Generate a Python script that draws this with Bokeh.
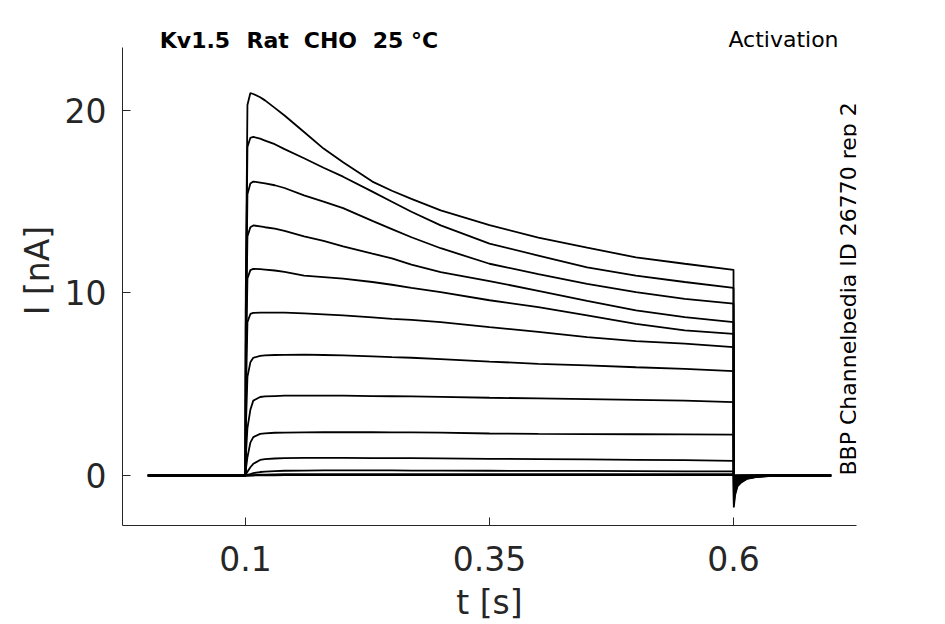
import math
from bokeh.plotting import figure
from bokeh.models import Range1d, FixedTicker, Label
from bokeh.embed import file_html
from bokeh.resources import INLINE

# Time grid (s)
T = [0.0, 0.1, 0.1003, 0.102, 0.105, 0.108, 0.115, 0.12, 0.13, 0.14, 0.16, 0.18,
     0.2, 0.23, 0.25, 0.27, 0.3, 0.35, 0.4, 0.45, 0.5, 0.55, 0.6,
     0.6003, 0.6015, 0.604, 0.608, 0.614, 0.624, 0.64, 0.7]

# Current traces (nA), one per voltage step
I01 = [0, 0, 10.0, 20.3, 20.95, 20.9, 20.72, 20.55, 20.14, 19.72, 18.82, 17.91,
       17.16, 16.1, 15.6, 15.15, 14.52, 13.72, 13.03, 12.48, 11.95, 11.6, 11.27,
       -1.75, -1.1, -0.6, -0.38, -0.18, -0.08, -0.02, 0]
I02 = [0, 0, 9.0, 18.0, 18.5, 18.55, 18.45, 18.35, 18.15, 17.88, 17.38, 16.86,
       16.37, 15.55, 15.0, 14.45, 13.7, 12.7, 12.05, 11.4, 10.95, 10.6, 10.28,
       -1.55, -0.98, -0.53, -0.34, -0.16, -0.07, -0.02, 0]
I03 = [0, 0, 8.0, 15.4, 16.0, 16.1, 16.05, 16.0, 15.9, 15.75, 15.35, 15.0,
       14.65, 13.95, 13.5, 13.05, 12.45, 11.6, 11.03, 10.5, 10.04, 9.68, 9.41,
       -1.35, -0.85, -0.46, -0.29, -0.14, -0.06, -0.02, 0]
I04 = [0, 0, 7.0, 13.1, 13.6, 13.7, 13.65, 13.6, 13.52, 13.4, 13.1, 12.85,
       12.55, 12.15, 11.9, 11.55, 11.14, 10.65, 10.12, 9.57, 9.04, 8.67, 8.4,
       -1.15, -0.72, -0.39, -0.25, -0.12, -0.05, -0.01, 0]
I05 = [0, 0, 5.5, 10.8, 11.25, 11.32, 11.3, 11.28, 11.23, 11.15, 10.95, 10.87,
       10.78, 10.6, 10.45, 10.28, 10.04, 9.6, 9.22, 8.77, 8.31, 7.95, 7.76,
       -0.95, -0.6, -0.33, -0.21, -0.1, -0.04, -0.01, 0]
I06 = [0, 0, 4.0, 8.4, 8.85, 8.91, 8.92, 8.92, 8.92, 8.92, 8.88, 8.83,
       8.77, 8.66, 8.58, 8.52, 8.4, 8.13, 7.87, 7.58, 7.36, 7.22, 7.03,
       -0.75, -0.47, -0.26, -0.16, -0.08, -0.03, -0.01, 0]
I07 = [0, 0, 2.5, 5.4, 6.2, 6.45, 6.55, 6.58, 6.6, 6.61, 6.62, 6.6,
       6.58, 6.52, 6.48, 6.45, 6.38, 6.24, 6.12, 6.03, 5.93, 5.84, 5.72,
       -0.55, -0.35, -0.19, -0.12, -0.06, -0.02, 0, 0]
I08 = [0, 0, 1.0, 2.6, 3.6, 4.1, 4.3, 4.33, 4.35, 4.37, 4.38, 4.38,
       4.38, 4.35, 4.34, 4.33, 4.31, 4.26, 4.22, 4.18, 4.14, 4.1, 4.02,
       -0.35, -0.22, -0.12, -0.08, -0.04, -0.01, 0, 0]
I09 = [0, 0, 0.3, 1.0, 1.8, 2.1, 2.28, 2.31, 2.34, 2.35, 2.36, 2.37,
       2.37, 2.37, 2.36, 2.36, 2.35, 2.3, 2.28, 2.27, 2.26, 2.25, 2.24,
       -0.18, -0.11, -0.06, -0.04, -0.02, -0.01, 0, 0]
I10 = [0, 0, 0.05, 0.2, 0.45, 0.64, 0.85, 0.9, 0.93, 0.95, 0.96, 0.96,
       0.96, 0.95, 0.95, 0.95, 0.94, 0.91, 0.9, 0.88, 0.86, 0.84, 0.8,
       -0.08, -0.05, -0.03, -0.02, -0.01, 0, 0, 0]
I11 = [0, 0, 0, 0.03, 0.08, 0.13, 0.19, 0.21, 0.24, 0.26, 0.27, 0.28,
       0.28, 0.28, 0.28, 0.27, 0.27, 0.26, 0.25, 0.25, 0.24, 0.23, 0.22,
       -0.03, -0.02, -0.01, 0, 0, 0, 0, 0]
I12 = [0, 0, 0, 0, 0.01, 0.02, 0.04, 0.05, 0.06, 0.07, 0.08, 0.08,
       0.08, 0.08, 0.08, 0.08, 0.08, 0.08, 0.07, 0.07, 0.07, 0.07, 0.07,
       0, 0, 0, 0, 0, 0, 0, 0]
I13 = [0, 0, 0, 0, 0, 0, 0.01, 0.01, 0.01, 0.02, 0.02, 0.02,
       0.02, 0.02, 0.02, 0.02, 0.02, 0.02, 0.02, 0.02, 0.02, 0.02, 0.02,
       0, 0, 0, 0, 0, 0, 0, 0]
TRACES = [I01, I02, I03, I04, I05, I06, I07, I08, I09, I10, I11, I12, I13]

X_TICKS = [0.1, 0.35, 0.6]
Y_TICKS = [0, 10, 20]
TITLE_WORDS = ["Kv1.5", "Rat", "CHO", "25 °C"]
PROTOCOL = "Activation"
SOURCE = "BBP Channelpedia ID 26770 rep 2"

FONT = "DejaVu Sans"
AX = "#262626"
X_MIN, X_MAX = -0.026, 0.726
Y_MIN, Y_AXIS_TOP, Y_FRAME_TOP = -2.74, 23.45, 25.2
TITLE_X = [0.0122, 0.1010, 0.1597, 0.2304]

p = figure(width=938, height=624, output_backend="svg", toolbar_location=None,
           x_range=Range1d(X_MIN, X_MAX), y_range=Range1d(Y_MIN, Y_FRAME_TOP),
           min_border_left=122, min_border_right=82, min_border_top=15,
           min_border_bottom=99)
p.outline_line_color = None
p.grid.grid_line_color = None
p.background_fill_color = "white"
p.border_fill_color = "white"

for tr in TRACES:
    p.line(T, tr, line_color="black", line_width=1.8)

for ax in (p.xaxis[0], p.yaxis[0]):
    ax.axis_line_color = AX
    ax.axis_line_width = 1
    ax.major_tick_line_color = AX
    ax.major_tick_in = 8
    ax.major_tick_out = 0
    ax.minor_tick_line_color = None
    ax.major_label_text_font = FONT
    ax.major_label_text_font_size = "33px"
    ax.major_label_text_color = AX
    ax.axis_label_text_font = FONT
    ax.axis_label_text_font_size = "33px"
    ax.axis_label_text_font_style = "normal"
    ax.axis_label_text_color = AX

p.yaxis.bounds = (Y_MIN, Y_AXIS_TOP)
p.xaxis.ticker = FixedTicker(ticks=X_TICKS)
p.yaxis.ticker = FixedTicker(ticks=Y_TICKS)
p.xaxis.major_label_overrides = {0.1: "0.1", 0.35: "0.35", 0.6: "0.6"}
p.xaxis.axis_label = "t [s]"
p.yaxis.axis_label = "I [nA]"
p.xaxis.major_label_standoff = 20
p.yaxis.major_label_standoff = 16
p.xaxis.axis_label_standoff = 9
p.yaxis.axis_label_standoff = 5

for word, wx in zip(TITLE_WORDS, TITLE_X):
    p.add_layout(Label(x=wx, y=23.84, text=word, text_font=FONT,
                       text_font_size="22px", text_font_style="bold",
                       text_color="black", text_baseline="middle",
                       text_align="left"))
p.add_layout(Label(x=0.7076, y=23.9, text=PROTOCOL, text_font=FONT,
                   text_font_size="22px", text_color="black",
                   text_baseline="middle", text_align="right"))
p.add_layout(Label(x=0.7178, y=0.0, text=SOURCE, text_font=FONT,
                   text_font_size="22px", text_color="black", angle=math.pi / 2,
                   text_baseline="middle", text_align="left"))

open("out.html", "w").write(file_html(p, INLINE))
